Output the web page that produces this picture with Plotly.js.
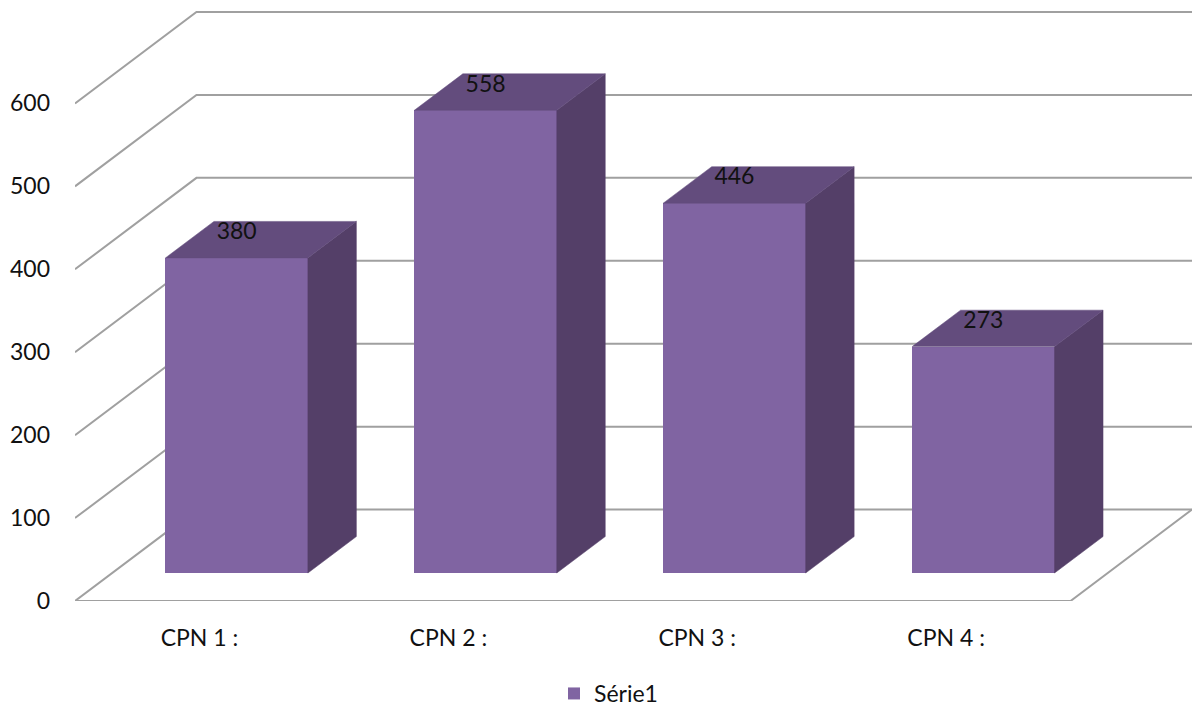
<!DOCTYPE html>
<html>
<head>
<meta charset="utf-8">
<script src="https://cdn.plot.ly/plotly-3.0.1.min.js"></script>
<style>html,body{margin:0;padding:0;background:#fff}#chart{width:1192px;height:709px}</style>
</head>
<body>
<div id="chart"></div>
<script>
// chart values
const categories = ["CPN 1 :", "CPN 2 :", "CPN 3 :", "CPN 4 :"];
const values = [380, 558, 446, 273];
const yTicks = [0, 100, 200, 300, 400, 500, 600];
const seriesName = "Série1";

// pseudo-3D projection, in axis units
const wallDx = 121.5 / 249, wallDy = 91.5 / 0.83;
const barInsetX = 37.25 / 249, barInsetY = 28 / 0.83;
const barWidth = 142.5 / 249;
const barDx = 48.5 / 249, barDy = 36.5 / 0.83;
const labelLift = 24.5 / 0.83;
const xRange = [0.5, 4.5 + wallDx];
const yRange = [0, 596.5 / 0.83];
const positions = categories.map((_, i) => i + 1);

const gridColor = "#a0a0a0", frontColor = "#8064A2", sideColor = "#543F68", topColor = "#634C7D";
const textFont = { family: "Lato, 'Open Sans', sans-serif", size: 23, color: "#111111" };

const traces = [];
// walls: drawn on the base axes, behind the bars
yTicks.forEach(v => {
  traces.push({
    type: "scatter", mode: "lines", showlegend: false, hoverinfo: "skip", cliponaxis: false,
    x: [xRange[0], xRange[0] + wallDx, xRange[1]],
    y: [v, v + wallDy, v + wallDy],
    line: { color: gridColor, width: 2 }
  });
});
// floor front edge
traces.push({
  type: "scatter", mode: "lines", showlegend: false, hoverinfo: "skip", cliponaxis: false,
  x: [xRange[0], positions[positions.length - 1] + 0.5, xRange[1]],
  y: [0, 0, wallDy],
  line: { color: gridColor, width: 2 }
});
// bars: front faces
traces.push({
  type: "bar", name: seriesName, xaxis: "x2", yaxis: "y2",
  x: positions.map(p => p + barInsetX), y: values, base: values.map(() => barInsetY),
  width: barWidth, marker: { color: frontColor }, hoverinfo: "skip"
});
// bars: side and top faces
values.forEach((v, i) => {
  const left = positions[i] + barInsetX - barWidth / 2, right = left + barWidth;
  const y0 = barInsetY, y1 = barInsetY + v;
  traces.push({
    type: "scatter", mode: "lines", fill: "toself", fillcolor: sideColor, showlegend: false,
    hoverinfo: "skip", xaxis: "x2", yaxis: "y2", line: { color: sideColor, width: 0.5 },
    x: [right, right + barDx, right + barDx, right, right],
    y: [y0, y0 + barDy, y1 + barDy, y1, y0]
  });
  traces.push({
    type: "scatter", mode: "lines", fill: "toself", fillcolor: topColor, showlegend: false,
    hoverinfo: "skip", xaxis: "x2", yaxis: "y2", line: { color: topColor, width: 0.5 },
    x: [left, left + barDx, right + barDx, right, left],
    y: [y1, y1 + barDy, y1 + barDy, y1, y1]
  });
});
// data labels
traces.push({
  type: "scatter", mode: "text", showlegend: false, hoverinfo: "skip", xaxis: "x2", yaxis: "y2",
  x: positions.map(p => p + barInsetX),
  y: values.map(v => v + barInsetY + labelLift),
  text: values.map(String), textposition: "middle center", textfont: textFont
});

const layout = {
  width: 1192, height: 709, autosize: false,
  margin: { l: 75, r: 0, t: 5, b: 107.5, pad: 0 },
  paper_bgcolor: "#ffffff", plot_bgcolor: "rgba(0,0,0,0)",
  font: textFont,
  showlegend: true,
  legend: {
    orientation: "h", xref: "container", yref: "container",
    x: 554 / 1192, xanchor: "left", y: 1 - 693.5 / 709, yanchor: "middle",
    font: textFont, bgcolor: "rgba(0,0,0,0)"
  },
  bargap: 0,
  xaxis: {
    range: xRange, showgrid: false, zeroline: false, showline: false, ticks: "",
    tickmode: "array", tickvals: positions, ticktext: categories, ticklabelstandoff: 21,
    tickfont: textFont, fixedrange: true
  },
  yaxis: {
    range: yRange, showgrid: false, zeroline: false, showline: false, ticks: "",
    tickmode: "array", tickvals: yTicks, ticktext: yTicks.map(String), ticklabelstandoff: 24,
    tickfont: textFont, fixedrange: true
  },
  xaxis2: { range: xRange, overlaying: "x", visible: false, fixedrange: true },
  yaxis2: { range: yRange, overlaying: "y", visible: false, fixedrange: true }
};

Plotly.newPlot("chart", traces, layout, { displayModeBar: false, staticPlot: true });
</script>
</body>
</html>
